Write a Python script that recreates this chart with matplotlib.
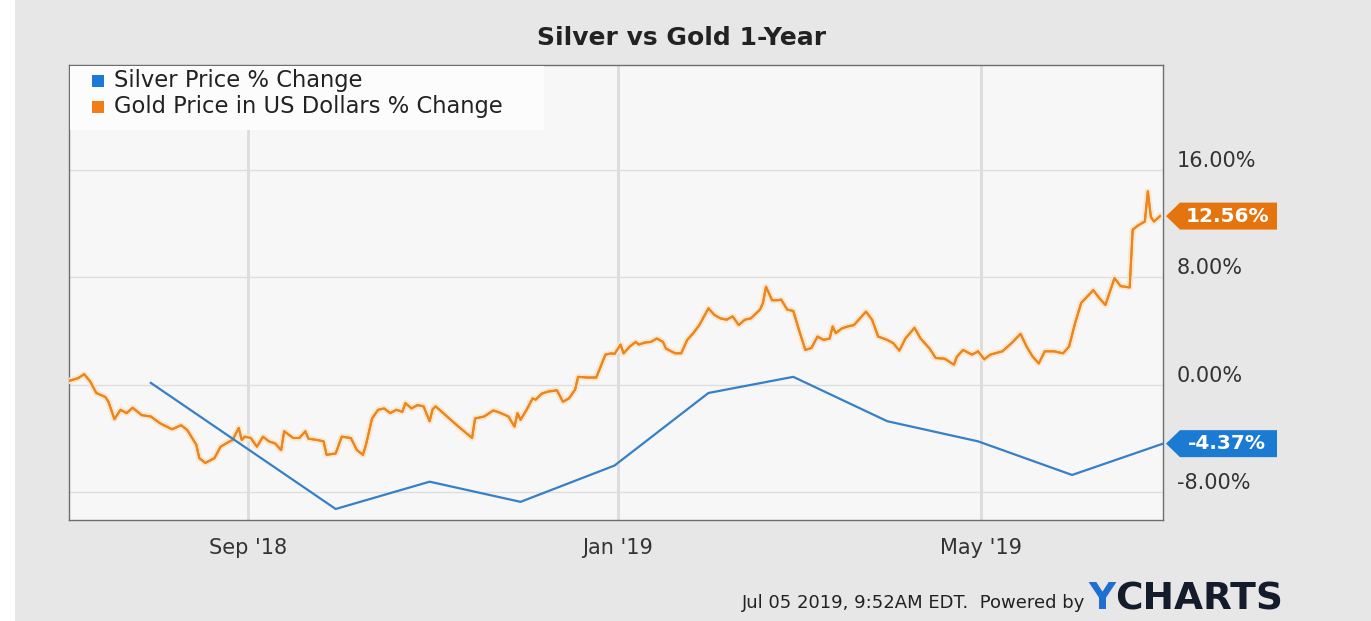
import matplotlib
matplotlib.use("Agg")
import matplotlib.pyplot as plt
import matplotlib.dates as mdates
import matplotlib.patheffects as pe
from matplotlib.patches import Polygon, Rectangle
from matplotlib.transforms import ScaledTranslation, IdentityTransform
import pandas as pd

title = "Silver vs Gold 1-Year"
silver_label = "Silver Price % Change"
gold_label = "Gold Price in US Dollars % Change"
footer = "Jul 05 2019, 9:52AM EDT.  Powered by"

silver_dates = ["2018-07-31", "2018-09-30", "2018-10-31", "2018-11-30", "2018-12-31",
                "2019-01-31", "2019-02-28", "2019-03-31", "2019-04-30", "2019-05-31",
                "2019-06-30"]
silver_pct = [0.15, -9.23, -7.2, -8.7, -6.0, -0.6, 0.6, -2.7, -4.2, -6.7, -4.37]

gold_dates = [
    "2018-07-04", "2018-07-07", "2018-07-09", "2018-07-11", "2018-07-13", "2018-07-16",
    "2018-07-17", "2018-07-19", "2018-07-21", "2018-07-23", "2018-07-25", "2018-07-28",
    "2018-07-31", "2018-08-03", "2018-08-07", "2018-08-10", "2018-08-12", "2018-08-15",
    "2018-08-16", "2018-08-18", "2018-08-21", "2018-08-23", "2018-08-26", "2018-08-27",
    "2018-08-29", "2018-08-30", "2018-08-31", "2018-09-02", "2018-09-04", "2018-09-06",
    "2018-09-08", "2018-09-10", "2018-09-12", "2018-09-13", "2018-09-16", "2018-09-18",
    "2018-09-20", "2018-09-21", "2018-09-24", "2018-09-26", "2018-09-27", "2018-09-30",
    "2018-10-02", "2018-10-05", "2018-10-07", "2018-10-09", "2018-10-10", "2018-10-12",
    "2018-10-14", "2018-10-16", "2018-10-18", "2018-10-20", "2018-10-22", "2018-10-23",
    "2018-10-25", "2018-10-27", "2018-10-29", "2018-10-31", "2018-11-01", "2018-11-02",
    "2018-11-04", "2018-11-09", "2018-11-14", "2018-11-15", "2018-11-18", "2018-11-21",
    "2018-11-23", "2018-11-26", "2018-11-28", "2018-11-29", "2018-11-30", "2018-12-02",
    "2018-12-04", "2018-12-05", "2018-12-07", "2018-12-09", "2018-12-12", "2018-12-14",
    "2018-12-16", "2018-12-18", "2018-12-19", "2018-12-22", "2018-12-25", "2018-12-28",
    "2018-12-30", "2018-12-31", "2019-01-02", "2019-01-03", "2019-01-05", "2019-01-07",
    "2019-01-08", "2019-01-10", "2019-01-12", "2019-01-14", "2019-01-16", "2019-01-17",
    "2019-01-20", "2019-01-22", "2019-01-24", "2019-01-26", "2019-01-28", "2019-01-31",
    "2019-02-02", "2019-02-04", "2019-02-06", "2019-02-08", "2019-02-10", "2019-02-12",
    "2019-02-14", "2019-02-17", "2019-02-18", "2019-02-19", "2019-02-21", "2019-02-23",
    "2019-02-24", "2019-02-26", "2019-02-28", "2019-03-02", "2019-03-04", "2019-03-06",
    "2019-03-08", "2019-03-10", "2019-03-12", "2019-03-13", "2019-03-14", "2019-03-16",
    "2019-03-18", "2019-03-20", "2019-03-22", "2019-03-24", "2019-03-26", "2019-03-28",
    "2019-03-31", "2019-04-02", "2019-04-04", "2019-04-06", "2019-04-09", "2019-04-11",
    "2019-04-14", "2019-04-16", "2019-04-19", "2019-04-22", "2019-04-23", "2019-04-25",
    "2019-04-28", "2019-04-30", "2019-05-02", "2019-05-04", "2019-05-08", "2019-05-11",
    "2019-05-14", "2019-05-16", "2019-05-18", "2019-05-20", "2019-05-22", "2019-05-25",
    "2019-05-28", "2019-05-30", "2019-06-01", "2019-06-03", "2019-06-07", "2019-06-09",
    "2019-06-11", "2019-06-14", "2019-06-16", "2019-06-19", "2019-06-20", "2019-06-22",
    "2019-06-24", "2019-06-25", "2019-06-26", "2019-06-27", "2019-06-29",
]
gold_pct = [
    0.3, 0.5, 0.8, 0.25, -0.6, -0.9,
    -1.25, -2.55, -1.85, -2.1, -1.7, -2.25,
    -2.35, -2.85, -3.3, -3.0, -3.35, -4.45,
    -5.45, -5.8, -5.45, -4.6, -4.2, -4.1,
    -3.2, -4.1, -3.85, -3.95, -4.6, -3.85,
    -4.2, -4.35, -4.85, -3.45, -3.95, -3.95,
    -3.45, -4.0, -4.1, -4.2, -5.2, -5.1,
    -3.85, -3.95, -4.85, -5.2, -4.45, -2.5,
    -1.85, -1.75, -2.1, -1.85, -2.0, -1.35,
    -1.75, -1.5, -1.6, -2.7, -1.8, -1.6,
    -2.0, -3.0, -3.95, -2.5, -2.35, -1.9,
    -2.05, -2.35, -3.1, -2.1, -2.6, -1.85,
    -1.0, -1.1, -0.65, -0.5, -0.4, -1.25,
    -1.0, -0.35, 0.6, 0.55, 0.55, 2.25,
    2.35, 2.3, 3.0, 2.35, 2.85, 3.2,
    3.0, 3.15, 3.2, 3.45, 3.2, 2.7,
    2.35, 2.35, 3.35, 3.85, 4.45, 5.7,
    5.2, 4.95, 4.85, 5.1, 4.45, 4.85,
    4.95, 5.6, 6.1, 7.3, 6.3, 6.3,
    6.35, 5.6, 5.5, 4.0, 2.6, 2.75,
    3.6, 3.35, 3.45, 4.35, 3.85, 4.2,
    4.35, 4.45, 4.95, 5.45, 4.85, 3.6,
    3.35, 3.1, 2.55, 3.45, 4.25, 3.45,
    2.7, 2.0, 1.95, 1.5, 2.1, 2.6,
    2.25, 2.5, 1.9, 2.25, 2.5, 3.1,
    3.8, 2.85, 2.1, 1.6, 2.5, 2.5,
    2.35, 2.85, 4.6, 6.1, 7.05, 6.45,
    5.95, 7.95, 7.35, 7.25, 11.55, 11.9,
    12.15, 14.4, 12.5, 12.15, 12.56,
]

y_ticks = [-8, 0, 8, 16]
x_ticks = ["2018-09-01", "2019-01-01", "2019-05-01"]
x_range = ["2018-07-04", "2019-06-30"]
y_range = [-10.05, 23.8]

silver_color = "#3580c6"
gold_color = "#ea861e"
silver_tag = "#1b7bd2"
gold_tag = "#e4740e"

W, H = 1371, 621
fig = plt.figure(figsize=(W / 100, H / 100), dpi=100)
fig.patch.set_facecolor("#e7e7e8")
fig.add_artist(Rectangle((0, 0), 15 / W, 1, transform=fig.transFigure,
                         facecolor="white", edgecolor="none", zorder=0))

ax = fig.add_axes([69 / W, 1 - 520 / H, 1094 / W, 455 / H])
ax.set_facecolor("#f7f7f7")

ax.plot(pd.to_datetime(gold_dates), gold_pct, color=gold_color, lw=1.5, zorder=3,
        path_effects=[pe.withStroke(linewidth=4.5, foreground="#fbe6cf"), pe.Normal()])
ax.plot(pd.to_datetime(silver_dates), silver_pct, color=silver_color, lw=1.6, zorder=3)

ax.set_xlim(pd.to_datetime(x_range))
ax.set_ylim(y_range)

ax.set_xticks(pd.to_datetime(x_ticks))
ax.xaxis.set_major_formatter(mdates.DateFormatter("%b '%y"))
ax.set_yticks(y_ticks)
ax.yaxis.set_major_formatter(plt.FuncFormatter(lambda v, p: f"{v:.2f}%"))
ax.yaxis.tick_right()
ax.tick_params(axis="both", length=0, labelsize=15, labelcolor="#333333")
ax.tick_params(axis="x", pad=13)
ax.tick_params(axis="y", pad=10)
for lab in ax.get_yticklabels():
    lab.set_transform(lab.get_transform() + ScaledTranslation(0, 11 / 100, fig.dpi_scale_trans))

ax.grid(axis="y", color="#dedede", lw=1)
ax.grid(axis="x", color="#dcdcdc", lw=2)
ax.set_axisbelow(True)
for s in ax.spines.values():
    s.set_color("#6e6e6e")
    s.set_linewidth(1)

# legend box, drawn by hand to match the placement
fig.add_artist(Rectangle((70 / W, 1 - 130 / H), 474 / W, 64 / H, transform=fig.transFigure,
                         facecolor="#fcfcfc", edgecolor="none", zorder=4))
for i, (lbl, col) in enumerate([(silver_label, "#1c7ad6"), (gold_label, "#f07d18")]):
    yc = 81 + 26 * i
    fig.add_artist(Rectangle((92 / W, 1 - (yc + 6) / H), 12 / W, 12 / H,
                             transform=fig.transFigure, facecolor=col, edgecolor="none",
                             zorder=5))
    fig.text(114 / W, 1 - yc / H, lbl, ha="left", va="center", fontsize=16.3,
             color="#222222", zorder=5)

fig.text(682 / W, 1 - 38 / H, title, ha="center", va="center",
         fontsize=18, fontweight="bold", color="#222222")

# value tags on the right edge
fig.canvas.draw()
x_end = mdates.date2num(pd.to_datetime(x_range[1]))
for val, col in [(gold_pct[-1], gold_tag), (silver_pct[-1], silver_tag)]:
    _, yd = ax.transData.transform((x_end, val))
    verts = [(1166, yd), (1180, yd + 13.5), (1277, yd + 13.5), (1277, yd - 13.5),
             (1180, yd - 13.5)]
    fig.add_artist(Polygon(verts, closed=True, transform=IdentityTransform(),
                           facecolor=col, edgecolor="none"))
    fig.text(1227, yd, f"{val:.2f}%", transform=IdentityTransform(), ha="center",
             va="center", fontsize=14.5, fontweight="bold", color="white")

# footer
ytxt = fig.text(1088 / W, 1 - 609 / H, "Y", ha="left", va="baseline",
                fontsize=27, fontweight="bold", color="#1f6fd0")
fig.text(1085 / W, 1 - 608 / H, footer, ha="right", va="baseline",
         fontsize=13, color="#222222")
fig.add_artist(plt.Annotation("CHARTS", xy=(1, 0), xycoords=ytxt, va="bottom",
                              fontsize=27, fontweight="bold", color="#141b2b"))

fig.savefig("out.png", dpi=100, facecolor=fig.get_facecolor())
